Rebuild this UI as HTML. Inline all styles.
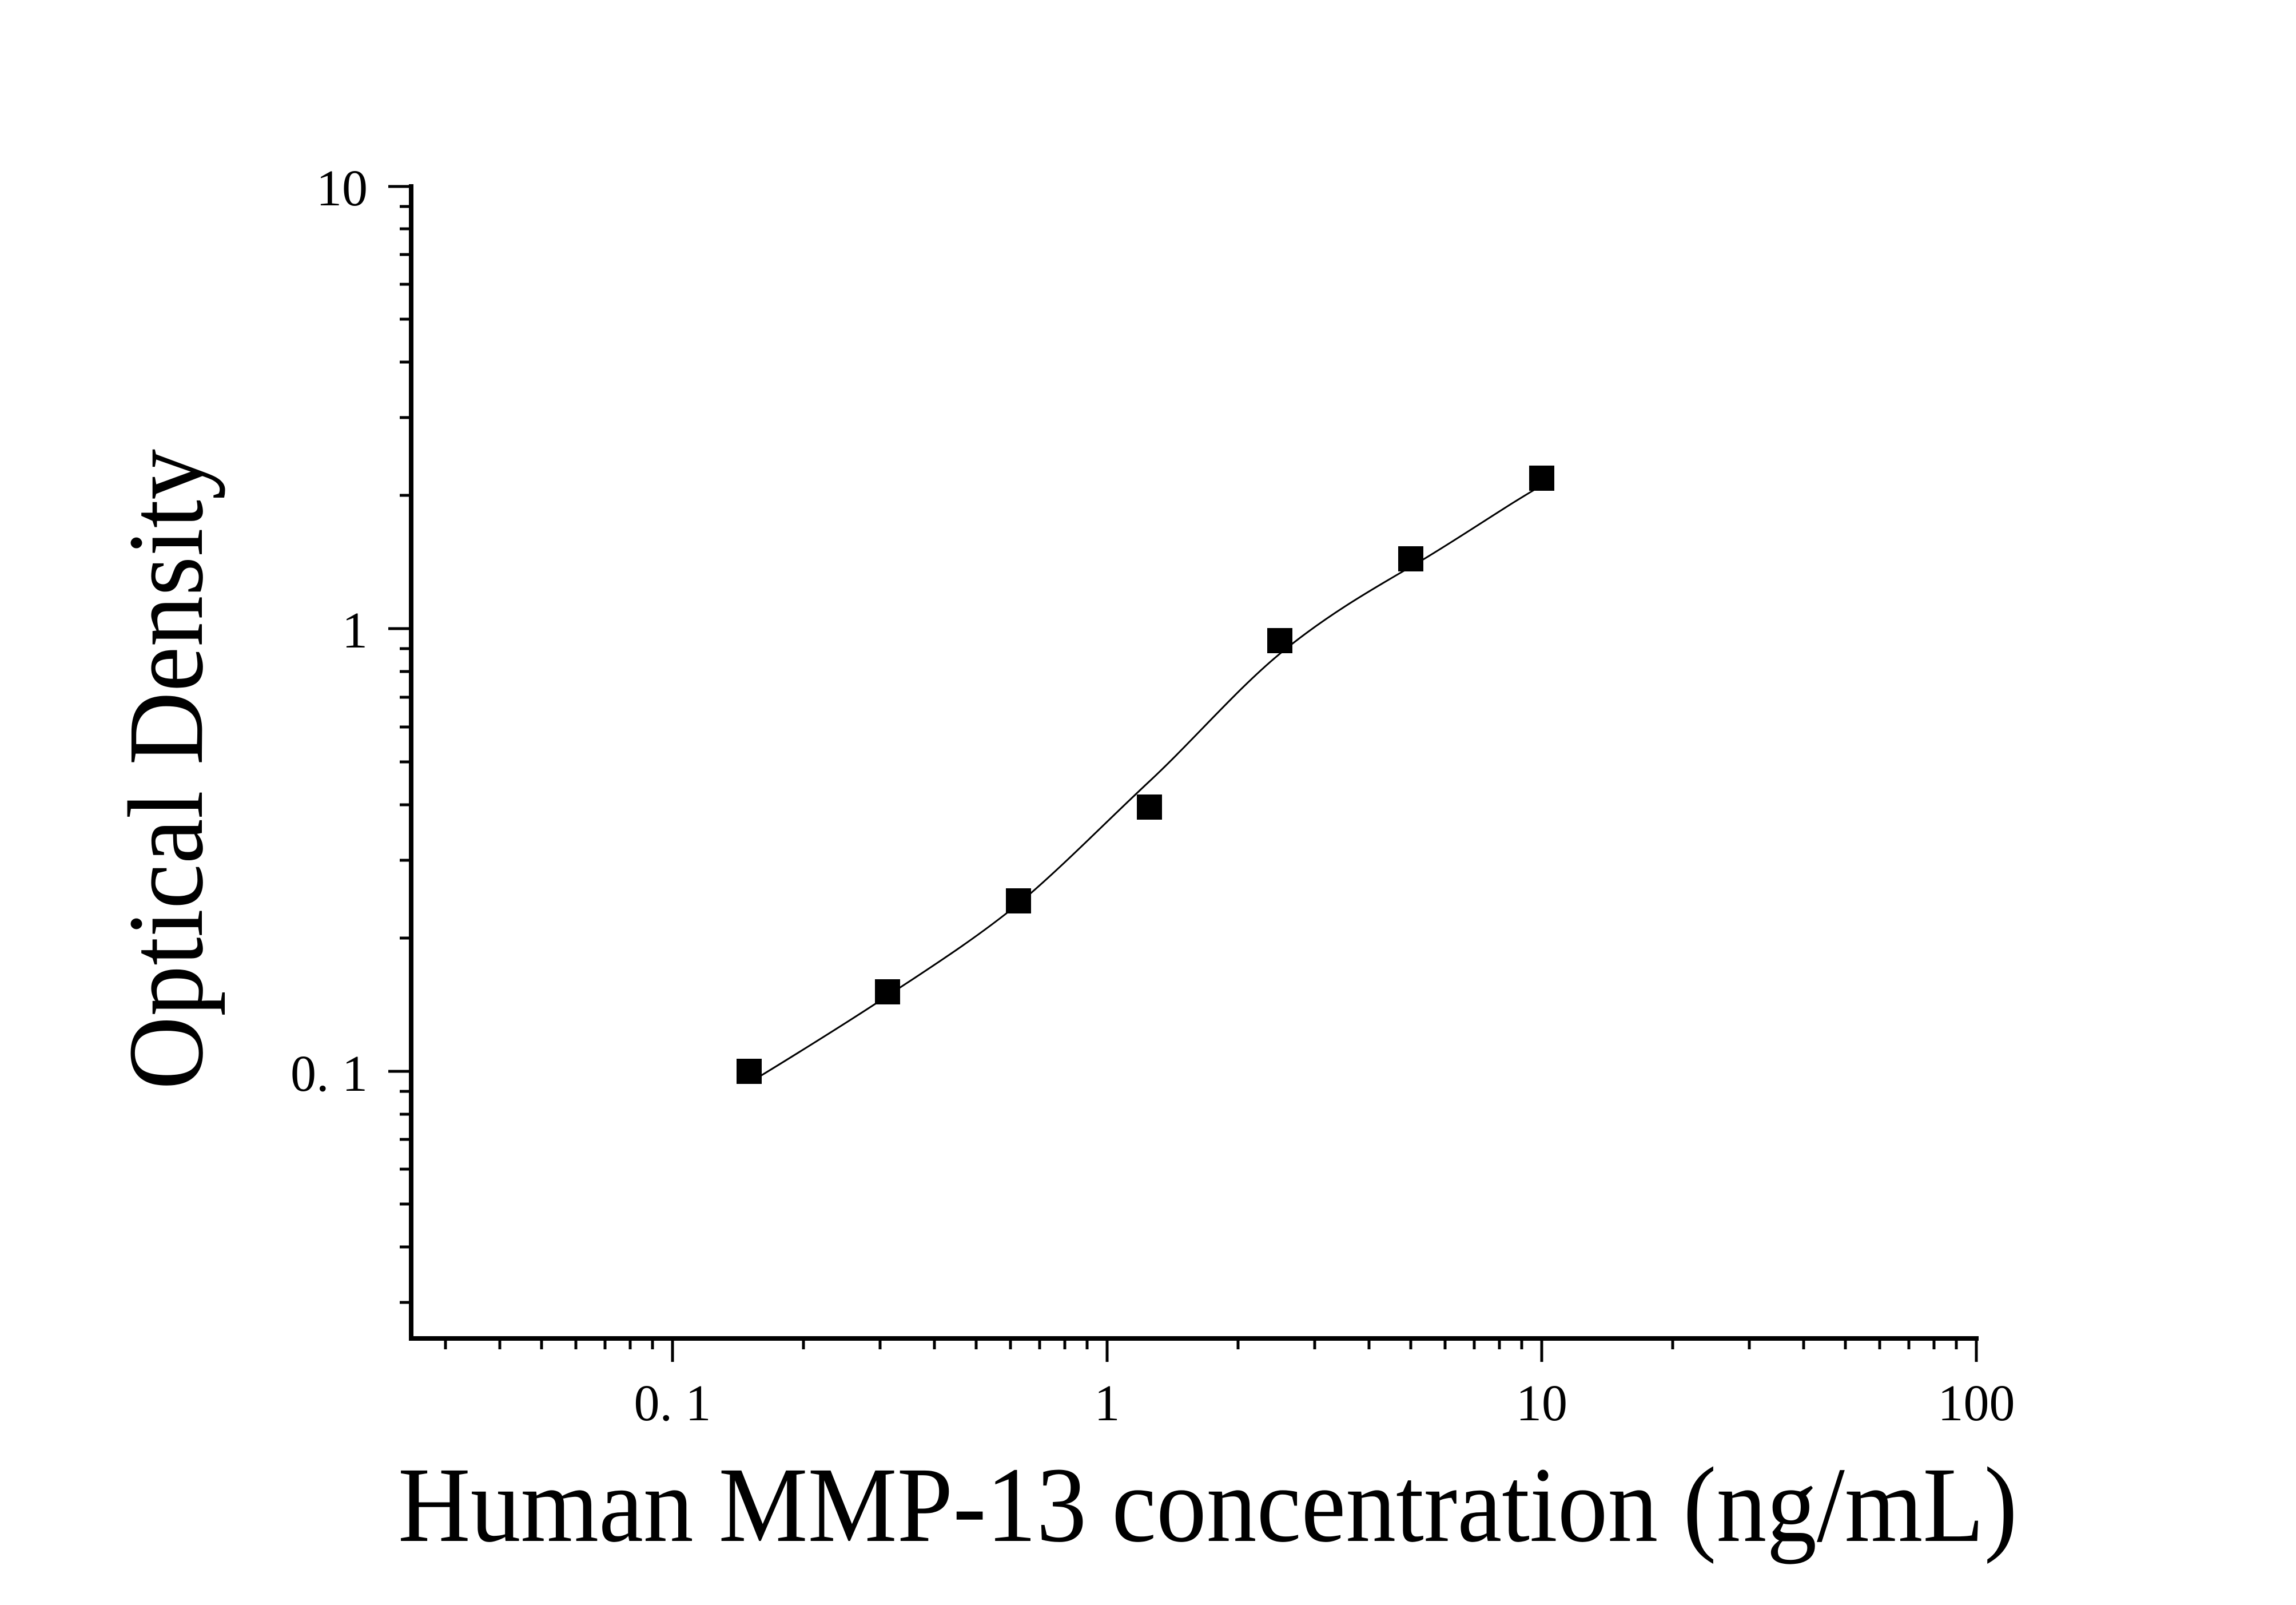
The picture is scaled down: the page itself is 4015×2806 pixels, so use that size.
<!DOCTYPE html>
<html><head><meta charset="utf-8"><style>html,body{margin:0;padding:0;background:#fff}svg{display:block}</style></head>
<body>
<svg width="4015" height="2806" viewBox="0 0 4015 2806" xmlns="http://www.w3.org/2000/svg">
<rect width="4015" height="2806" fill="#fff"/>
<g stroke="#000" fill="none">
<path d="M719 322 V2344 M715 2340 H3460" stroke-width="8"/>
<path stroke-width="5" d="M679 326H719 M679 1099H719 M679 1873H719
M699 866H719 M699 730H719 M699 633H719 M699 558H719 M699 497H719 M699 445H719 M699 400H719 M699 361H719
M699 1640H719 M699 1504H719 M699 1407H719 M699 1332H719 M699 1271H719 M699 1219H719 M699 1174H719 M699 1134H719
M699 2277H719 M699 2180H719 M699 2105H719 M699 2044H719 M699 1992H719 M699 1948H719 M699 1908H719
M1176 2344V2381 M1936 2344V2381 M2696 2344V2381 M3456 2344V2381
M779 2344V2359 M874 2344V2359 M947 2344V2359 M1007 2344V2359 M1058 2344V2359 M1102 2344V2359 M1141 2344V2359
M1405 2344V2359 M1539 2344V2359 M1634 2344V2359 M1707 2344V2359 M1767 2344V2359 M1818 2344V2359 M1862 2344V2359 M1901 2344V2359
M2165 2344V2359 M2299 2344V2359 M2394 2344V2359 M2467 2344V2359 M2527 2344V2359 M2578 2344V2359 M2622 2344V2359 M2661 2344V2359
M2925 2344V2359 M3059 2344V2359 M3154 2344V2359 M3227 2344V2359 M3287 2344V2359 M3338 2344V2359 M3382 2344V2359 M3421 2344V2359"/>
<path stroke-width="3" d="M1310 1893 C1350 1869 1473.5 1793 1552 1741 C1630.5 1689 1704.7 1642 1781 1580 C1857.3 1516 1933.8 1437 2010 1366 C2086.2 1295 2161.8 1206 2238 1143 C2314.2 1080 2390.7 1035 2467 991 C2543.3 947 2640 880 2696 849"/>
</g>
<g fill="#000">
<rect x="1288" y="1851" width="44" height="44"/>
<rect x="1530" y="1712" width="44" height="44"/>
<rect x="1759" y="1553" width="44" height="44"/>
<rect x="1988" y="1389" width="44" height="44"/>
<rect x="2216" y="1098" width="44" height="44"/>
<rect x="2445" y="955" width="44" height="44"/>
<rect x="2674" y="814" width="44" height="44"/>
</g>
<g font-family="Liberation Serif, serif" font-size="90" fill="#000">
<text x="643" y="359" text-anchor="end">10</text>
<text x="643" y="1132" text-anchor="end">1</text>
<text x="643" y="1907" text-anchor="end">0. 1</text>
<text x="1176" y="2483" text-anchor="middle">0. 1</text>
<text x="1936" y="2483" text-anchor="middle">1</text>
<text x="2696" y="2483" text-anchor="middle">10</text>
<text x="3456" y="2483" text-anchor="middle">100</text>
</g>
<g font-family="Liberation Serif, serif" font-size="188" fill="#000">
<text x="2112" y="2694" text-anchor="middle" textLength="2832" lengthAdjust="spacingAndGlyphs">Human MMP-13 concentration (ng/mL)</text>
<text transform="translate(353 1345) rotate(-90)" x="0" y="0" text-anchor="middle" textLength="1120" lengthAdjust="spacingAndGlyphs">Optical Density</text>
</g>
</svg>
</body></html>
